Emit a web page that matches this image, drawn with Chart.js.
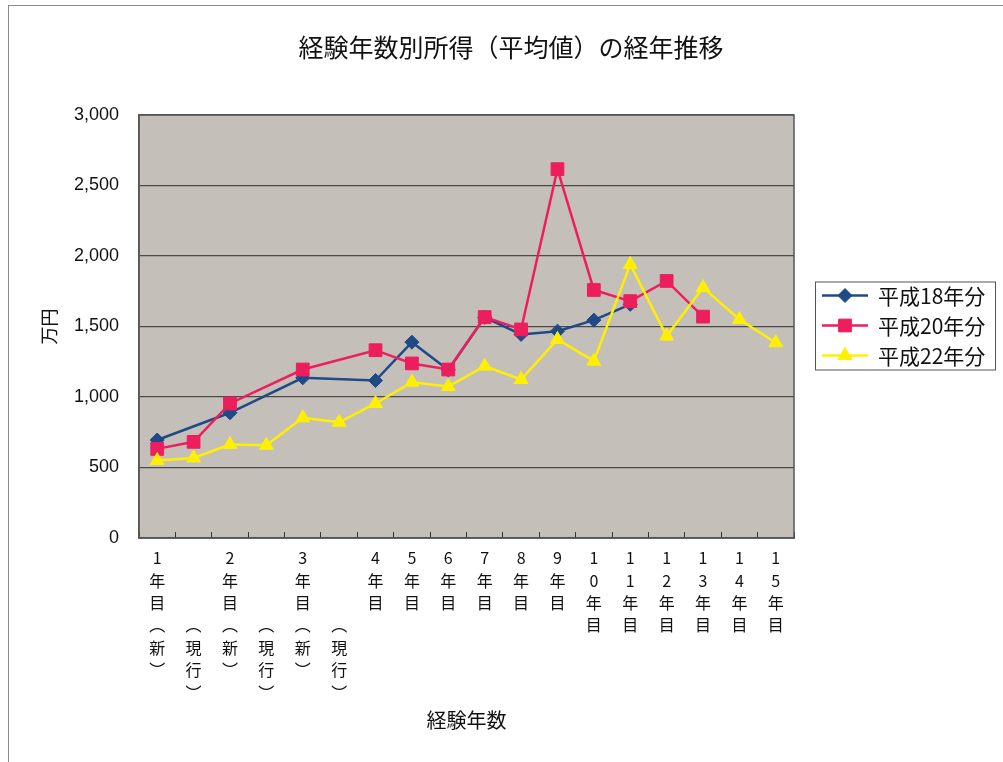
<!DOCTYPE html>
<html lang="ja">
<head>
<meta charset="utf-8">
<title>経験年数別所得(平均値)の経年推移</title>
<script src="https://cdn.jsdelivr.net/npm/chart.js@4/dist/chart.umd.min.js"></script>
<style>
  html, body { margin: 0; padding: 0; background: #fff; overflow: hidden; }
  canvas { display: block; }
</style>
</head>
<body>
<canvas id="incomeChart" width="1003" height="762"></canvas>
<script>
// categories (experience years), as written on the axis
const categories = [
  '1年目（新）', '（現行）', '2年目（新）', '（現行）', '3年目（新）', '（現行）',
  '4年目', '5年目', '6年目', '7年目', '8年目', '9年目',
  '10年目', '11年目', '12年目', '13年目', '14年目', '15年目'
];
const seriesNames = ['平成18年分', '平成20年分', '平成22年分'];

// average income (万円)
const h18 = [695, null, 888, null, 1136, null, 1117, 1389, 1192, 1565, 1444, 1467, 1545, 1657, null, null, null, null];
const h20 = [632, 682, 954, null, 1195, null, 1332, 1238, 1195, 1567, 1479, 2616, 1759, 1680, 1823, 1570, null, null];
const h22 = [549, 568, 663, 658, 852, 821, 954, 1105, 1074, 1219, 1124, 1408, 1254, 1941, 1432, 1776, 1550, 1385];

const yTicks = [0, 500, 1000, 1500, 2000, 2500, 3000];

const FONT = '"Liberation Sans", "Noto Sans CJK JP", sans-serif';
const JFONT = '"Noto Sans CJK JP", sans-serif';

// write the labels top-to-bottom, one char per line
function verticalLabel(s) {
  let chars = Array.from(s).map(c => c === '（' ? '︵' : c === '）' ? '︶' : c);
  if (chars[0] === '︵') chars = ['', '', ''].concat(chars);
  return chars;
}

const colors = ['#1f4a86', '#ec1e5e', '#fff000'];
const styles = ['rectRot', 'rect', 'triangle'];
const radii = [7, 9, 8];

// plot background + outer frame; title centred on the whole page
const frame = {
  id: 'frame',
  afterLayout(chart) {
    const tb = chart.titleBlock;
    if (tb) { tb.left = 0; tb.right = 1022; tb.width = 1022; }
  },
  beforeDraw(chart) {
    const { ctx, chartArea: a } = chart;
    ctx.save();
    ctx.strokeStyle = '#8a8a8a';
    ctx.lineWidth = 1;
    ctx.strokeRect(8.5, 5.5, 1100, 1000);
    ctx.fillStyle = '#c5bfba';
    ctx.fillRect(a.left, a.top, a.right - a.left, a.bottom - a.top);
    ctx.restore();
  },
  afterDatasetsDraw(chart) {
    const { ctx, chartArea: a } = chart;
    ctx.save();
    ctx.strokeStyle = '#555';
    ctx.lineWidth = 1.5;
    ctx.strokeRect(a.left, a.top, a.right - a.left, a.bottom - a.top);
    ctx.restore();
  }
};

// legend box with line + marker samples
const boxLegend = {
  id: 'boxLegend',
  afterDraw(chart) {
    const { ctx, chartArea: a } = chart;
    const left = a.right + 21, w = 180, rowH = 30, h = rowH * 3 - 2;
    const top = (a.top + a.bottom) / 2 - h / 2 - 1;
    ctx.save();
    ctx.fillStyle = '#fff';
    ctx.fillRect(left, top, w, h);
    ctx.strokeStyle = '#555';
    ctx.lineWidth = 1;
    ctx.strokeRect(left + 0.5, top + 0.5, w, h);
    chart.data.datasets.forEach((ds, i) => {
      const y = top + 14 + i * rowH;
      ctx.strokeStyle = ds.borderColor;
      ctx.lineWidth = 2.5;
      ctx.beginPath();
      ctx.moveTo(left + 7, y);
      ctx.lineTo(left + 53, y);
      ctx.stroke();
      ctx.fillStyle = ds.borderColor;
      ctx.strokeStyle = ds.borderColor;
      ctx.lineWidth = 1;
      Chart.helpers.drawPoint(ctx, { pointStyle: ds.pointStyle, radius: ds.pointRadius, rotation: 0, borderWidth: 1 }, left + 30, y);
      ctx.fillStyle = '#111';
      ctx.font = '21px ' + JFONT;
      ctx.textBaseline = 'middle';
      ctx.fillText(ds.label, left + 63, y + 1);
    });
    ctx.restore();
  }
};

new Chart(document.getElementById('incomeChart'), {
  type: 'line',
  data: {
    labels: categories.map(verticalLabel),
    datasets: [h18, h20, h22].map((d, i) => ({
      label: seriesNames[i],
      data: d,
      borderColor: colors[i],
      backgroundColor: colors[i],
      borderWidth: 2.5,
      pointStyle: styles[i],
      pointRadius: radii[i],
      pointHoverRadius: radii[i],
      pointBorderWidth: 1,
      spanGaps: true,
      tension: 0,
      order: 3 - i
    }))
  },
  options: {
    responsive: false,
    animation: false,
    devicePixelRatio: 1,
    layout: { padding: { left: 36, right: 209, top: 20, bottom: 20 } },
    plugins: {
      legend: { display: false },
      tooltip: { enabled: false },
      title: {
        display: true,
        text: '経験年数別所得（平均値）の経年推移',
        color: '#111',
        font: { family: JFONT, size: 25, weight: 'normal', lineHeight: 1.2 },
        padding: { top: 12, bottom: 53 }
      }
    },
    scales: {
      x: {
        offset: true,
        grid: { display: true, drawOnChartArea: false, drawTicks: true, tickLength: -6, offset: true, color: '#333' },
        border: { display: true, color: '#555', width: 1.5 },
        ticks: {
          autoSkip: false, maxRotation: 0, minRotation: 0, padding: 15,
          color: '#111',
          font: { family: JFONT, size: 16, lineHeight: 1.4 }
        },
        title: {
          display: true, text: '経験年数', color: '#111',
          font: { family: JFONT, size: 20, lineHeight: 1.2 },
          padding: { top: 4, bottom: 10 }
        },
        afterFit(scale) { scale.height = 204; }
      },
      y: {
        min: 0, max: 3000,
        afterBuildTicks(scale) { scale.ticks = yTicks.map(v => ({ value: v })); },
        grid: { color: '#4a4a4a', lineWidth: 1.2, drawTicks: false },
        border: { display: true, color: '#555', width: 1.5 },
        ticks: {
          padding: 20, color: '#111',
          font: { family: FONT, size: 18 },
          callback: v => v.toLocaleString('en-US')
        },
        title: {
          display: true, text: '万円', color: '#111',
          font: { family: JFONT, size: 18, lineHeight: 1.2 },
          padding: { top: 2, bottom: 2 }
        },
        afterFit(scale) { scale.width = 103; }
      }
    }
  },
  plugins: [frame, boxLegend]
});
</script>
</body>
</html>
